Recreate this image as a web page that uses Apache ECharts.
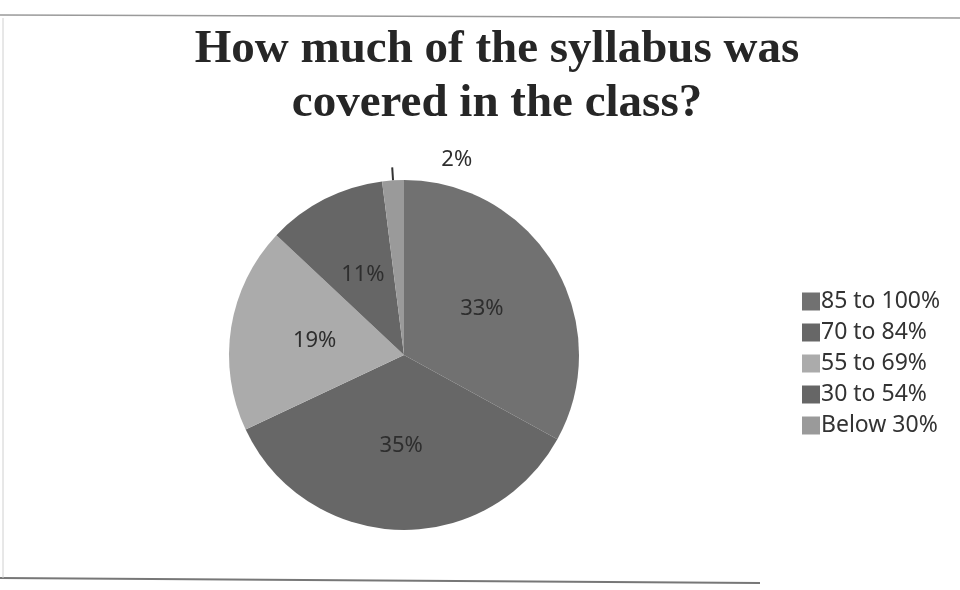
<!DOCTYPE html>
<html>
<head>
<meta charset="utf-8">
<script src="https://cdn.jsdelivr.net/npm/echarts@6/dist/echarts.min.js"></script>
<style>
html,body{margin:0;padding:0;background:#fff;}
#chart{width:960px;height:590px;}
</style>
</head>
<body>
<div id="chart"></div>
<script>
const titleText = 'How much of the syllabus was\ncovered in the class?';
const categories = ['85 to 100%', '70 to 84%', '55 to 69%', '30 to 54%', 'Below 30%'];
const values = [33, 35, 19, 11, 2];
const colors = ['#717171', '#676767', '#ababab', '#666666', '#9a9a9a'];

const chart = echarts.init(document.getElementById('chart'));
const data = categories.map((name, i) => {
  const item = { name: name, value: values[i], itemStyle: { color: colors[i] } };
  if (i === categories.length - 1) {
    item.label = { position: 'outside', offset: [85, -8] };
    item.labelLine = { show: true, length: 13, length2: 0, lineStyle: { color: '#333', width: 2 } };
  }
  return item;
});

chart.setOption({
  backgroundColor: '#ffffff',
  animation: false,
  title: {
    text: titleText,
    left: 492,
    top: 18,
    textAlign: 'center',
    textStyle: {
      fontFamily: 'Liberation Serif',
      fontWeight: 'bold',
      fontSize: 47,
      lineHeight: 54,
      color: '#262626'
    }
  },
  legend: {
    orient: 'vertical',
    left: 797,
    top: 285,
    icon: 'rect',
    itemWidth: 18,
    itemHeight: 18,
    itemGap: 8,
    data: categories,
    textStyle: {
      fontFamily: 'Noto Sans',
      fontSize: 23,
      lineHeight: 22,
      color: '#333333',
      padding: [0, 0, 0, -4]
    }
  },
  graphic: [
    { type: 'line', shape: { x1: 0, y1: 15, x2: 960, y2: 18 }, style: { stroke: '#9a9a9a', lineWidth: 1.5 } },
    { type: 'line', shape: { x1: 0, y1: 578, x2: 760, y2: 583 }, style: { stroke: '#777777', lineWidth: 2 } },
    { type: 'line', shape: { x1: 3, y1: 18, x2: 3, y2: 578 }, style: { stroke: '#d0d0d0', lineWidth: 1 } }
  ],
  series: [{
    type: 'pie',
    center: [404, 355],
    radius: [0, 175],
    startAngle: 90,
    clockwise: true,
    avoidLabelOverlap: false,
    itemStyle: { borderWidth: 0 },
    label: {
      show: true,
      position: 'inside',
      formatter: '{d}%',
      fontFamily: 'Noto Sans',
      fontSize: 22,
      color: '#2e2e2e'
    },
    labelLine: { show: false },
    emphasis: { disabled: true },
    data: data
  }]
});
</script>
</body>
</html>
